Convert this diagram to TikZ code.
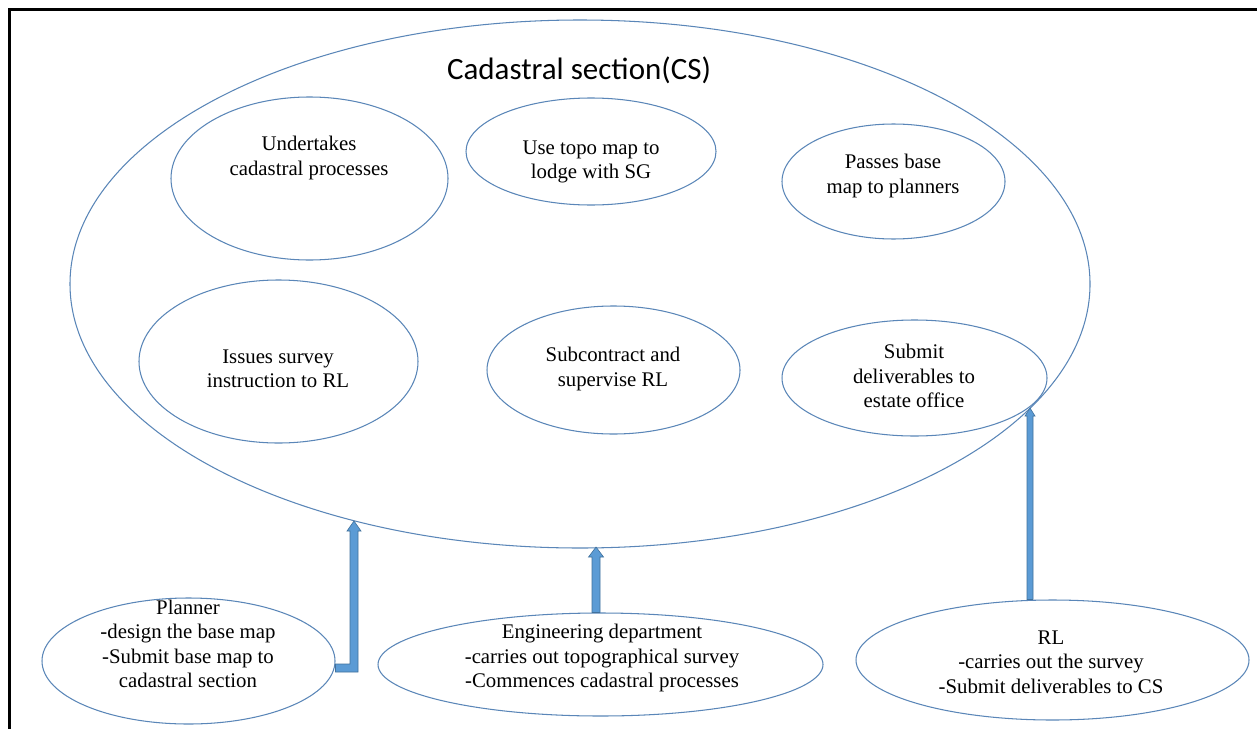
\documentclass[tikz,border=0pt]{standalone}
\usepackage{fontspec}
\setmainfont{Liberation Serif}
\newfontfamily\titlefont{Carlito}
\usetikzlibrary{shapes.geometric,calc}
\definecolor{edgeblue}{HTML}{5A86B8}
\definecolor{arrowfill}{HTML}{5B9BD5}
\definecolor{arrowline}{HTML}{41719C}
\newcommand\blockup[5]{% base, tip, half shaft, half head, head length
  \filldraw[blockarrow] let \p1=(#1), \p2=(#2) in
    (\x2-#3pt,\y1) -- (\x2-#3pt,\y2-#5pt) -- (\x2-#4pt,\y2-#5pt) -- (\x2,\y2)
    -- (\x2+#4pt,\y2-#5pt) -- (\x2+#3pt,\y2-#5pt) -- (\x2+#3pt,\y1) -- cycle;}
\begin{document}
\begin{tikzpicture}[x=1pt,y=-1pt,
  oval/.style={draw=edgeblue, line width=1.05pt, ellipse, inner sep=0pt},
  txt/.style={align=center, inner sep=0pt, font=\fontsize{20.8}{24.5}\selectfont},
  blockarrow/.style={fill=arrowfill, draw=arrowline, line width=0.6pt, line join=miter}]
\useasboundingbox (0,0) rectangle (1257,728);
\clip (0,0) rectangle (1257,728);
\fill[white] (0,0) rectangle (1257,728);
\draw[black, line width=2.4pt] (9.5,9.5) rectangle (1300,800);

% main ellipse
\node[oval, minimum width=1020pt, minimum height=528pt] (cs) at (580,284) {};
\node[inner sep=0pt, font=\titlefont\fontsize{31}{37}\selectfont] (title) at (579,70) {Cadastral section(CS)};

% inner ellipses
\node[oval, minimum width=277pt, minimum height=163pt] (e1) at (309.5,178.5) {};
\node[txt] (t1) at (309,158) {Undertakes\\cadastral processes};
\node[oval, minimum width=250pt, minimum height=107pt] (e2) at (591,151.5) {};
\node[txt] (t2) at (591,162) {Use topo map to\\lodge with SG};
\node[oval, minimum width=223pt, minimum height=115pt] (e3) at (893.5,181.5) {};
\node[txt] (t3) at (893,176) {Passes base\\map to planners};
\node[oval, minimum width=279pt, minimum height=163pt] (e4) at (278.5,361.5) {};
\node[txt] (t4) at (278,369) {Issues survey\\instruction to RL};
\node[oval, minimum width=253pt, minimum height=128pt] (e5) at (613.5,370) {};
\node[txt] (t5) at (613,369) {Subcontract and\\supervise RL};
\node[oval, minimum width=265pt, minimum height=116pt] (e6) at (914.5,378) {};
\node[txt] (t6) at (914,376) {Submit\\deliverables to\\estate office};

% outer ellipses
\node[oval, minimum width=293pt, minimum height=126pt] (pl) at (188.5,661) {};
\node[txt] (tpl) at (188,644) {Planner\\-design the base map\\-Submit base map to\\cadastral section};
\node[oval, minimum width=445pt, minimum height=103pt] (eng) at (600.5,664.5) {};
\node[txt] (teng) at (602,658) {Engineering department\\-carries out topographical survey\\-Commences cadastral processes};
\node[oval, minimum width=393pt, minimum height=120pt] (rl) at (1052.5,660) {};
\node[txt] (trl) at (1051,662) {RL\\-carries out the survey\\-Submit deliverables to CS};

% arrow tips on the main ellipse
\coordinate (tip1) at (354,521);
\coordinate (tip2) at (596,547);
\coordinate (tip3) at (1030,408);

% bent arrow from Planner
\filldraw[blockarrow] let \p1=(pl.east), \p2=(tip1) in
  (\x1,-664pt) -- (\x2-4pt,-664pt) -- (\x2-4pt,\y2-10pt) -- (\x2-7pt,\y2-10pt) -- (\x2,\y2)
  -- (\x2+7pt,\y2-10pt) -- (\x2+4pt,\y2-10pt) -- (\x2+4pt,-672pt) -- (\x1,-672pt) -- cycle;

% straight arrows
\blockup{eng.north}{tip2}{4}{7.5}{10}
\blockup{rl.north}{tip3}{3}{5}{8}
\end{tikzpicture}
\end{document}
